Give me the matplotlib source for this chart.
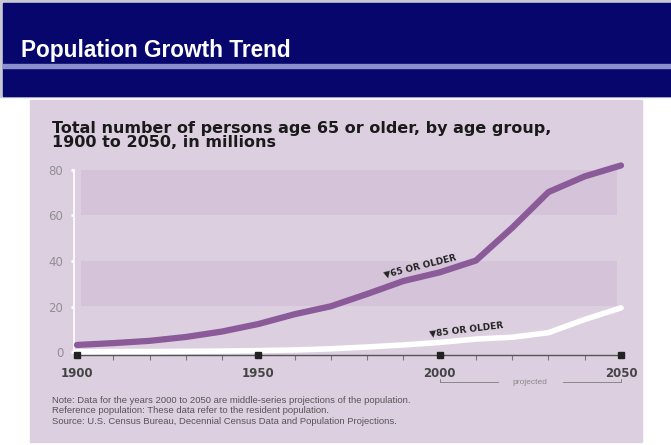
import matplotlib.pyplot as plt
from matplotlib.patches import Rectangle

# data (millions of persons)
years = [1900, 1910, 1920, 1930, 1940, 1950, 1960, 1970,
         1980, 1990, 2000, 2010, 2020, 2030, 2040, 2050]
age65 = [3.1, 3.9, 4.9, 6.6, 9.0, 12.3, 16.6, 20.1,
         25.5, 31.2, 35.0, 40.2, 54.6, 70.3, 77.2, 82.0]
age85 = [0.1, 0.2, 0.2, 0.3, 0.4, 0.6, 0.9, 1.4,
         2.2, 3.1, 4.2, 5.7, 6.5, 8.5, 14.3, 19.4]
major_years = [1900, 1950, 2000, 2050]
minor_years = [1910, 1920, 1930, 1940, 1960, 1970, 1980, 1990,
               2010, 2020, 2030, 2040]
y_ticks = [0, 20, 40, 60, 80]
bands = [(20, 40), (60, 80)]

W, H = 671, 445

def fx(px):
    return px / W

def fy(py):
    return 1 - py / H

fig = plt.figure(figsize=(W / 100, H / 100), dpi=100)
fig.patch.set_facecolor('white')

# header band and panel background
def box(x, y, w, h, c):
    fig.patches.append(Rectangle((fx(x), fy(y + h)), w / W, h / H,
                                 transform=fig.transFigure, color=c, zorder=-10))

box(0, 0, W, 97, '#c9c9d6')
box(3, 3, W, 93, '#06066c')
box(3, 64, W, 3.5, '#8a8ecc')
box(30, 100, 612, 342, '#dcd0e0')

fig.text(fx(21), fy(57), 'Population Growth Trend', color='white',
         fontsize=16.3, fontweight='bold', family='Liberation Sans', va='baseline')

fig.text(fx(52), fy(133), 'Total number of persons age 65 or older, by age group,',
         fontsize=11.5, fontweight='bold', color='#1a1a1a', va='baseline')
fig.text(fx(52), fy(147), '1900 to 2050, in millions',
         fontsize=11.5, fontweight='bold', color='#1a1a1a', va='baseline')

notes = ['Note: Data for the years 2000 to 2050 are middle-series projections of the population.',
         'Reference population: These data refer to the resident population.',
         'Source: U.S. Census Bureau, Decennial Census Data and Population Projections.']
for i, line in enumerate(notes):
    fig.text(fx(52), fy(403 + i * 10.3), line, fontsize=6.8, color='#555555',
             family='Liberation Sans', va='baseline')

# axes: 1900 -> px 77, 2050 -> px 621 ; 0 -> py 352, 80 -> py 170
ppy = (621 - 77) / 150
ppv = (352 - 170) / 80
x0, x1 = 1890, 2060
v0, v1 = -15, 90
left = 77 - (1900 - x0) * ppy
right = 621 + (x1 - 2050) * ppy
bottom = 352 - v0 * ppv
top = 170 - (v1 - 80) * ppv
ax = fig.add_axes([fx(left), fy(bottom), fx(right - left), (bottom - top) / H])
ax.set_xlim(x0, x1)
ax.set_ylim(v0, v1)
ax.patch.set_alpha(0)

for lo, hi in bands:
    ax.fill_between([1901, 2049], lo, hi, color='#d5c4d9', lw=0, zorder=1)

ax.plot(years, age85, color='white', lw=4, solid_capstyle='round', zorder=3)
ax.plot(years, age65, color='#8b5a99', lw=4.5, solid_capstyle='round', zorder=4)

for s in ['top', 'right']:
    ax.spines[s].set_visible(False)
ax.spines['left'].set_position(('data', 1899.3))
ax.spines['left'].set_bounds(0, 80)
ax.spines['left'].set_color('white')
ax.spines['left'].set_linewidth(1.2)
ax.spines['bottom'].set_position(('data', -1.3))
ax.spines['bottom'].set_bounds(1900, 2050)
ax.spines['bottom'].set_color('#555555')
ax.spines['bottom'].set_linewidth(1.0)

ax.set_yticks(y_ticks)
ax.tick_params(axis='y', colors='white', length=2, width=2, pad=6, labelsize=8.5,
               labelcolor='#909090')
ax.set_xticks(major_years)
ax.set_xticks(minor_years, minor=True)
ax.tick_params(axis='x', which='major', length=0, pad=9, labelsize=8.5, labelcolor='#444444')
ax.tick_params(axis='x', which='minor', length=3.5, width=0.8, color='#777777')
for lab in ax.get_xticklabels():
    lab.set_fontweight('bold')
ax.plot(major_years, [-1.3] * len(major_years), 's', color='#222222', ms=4.5,
        clip_on=False, zorder=5)

# series labels
ax.text(1994.6, 37.6, '\u25bc65 OR OLDER', rotation=14, fontsize=6.5, fontweight='bold',
        color='#222222', ha='center', va='center', rotation_mode='anchor')
ax.text(2007.5, 9.9, '\u25bc85 OR OLDER', rotation=7, fontsize=6.5, fontweight='bold',
        color='#222222', ha='center', va='center', rotation_mode='anchor')

# projected bracket
yb = -13.2
ax.plot([2000, 2016], [yb, yb], color='#888888', lw=0.7, clip_on=False)
ax.plot([2034, 2050], [yb, yb], color='#888888', lw=0.7, clip_on=False)
ax.plot([2000, 2000], [yb, yb + 1.5], color='#888888', lw=0.7, clip_on=False)
ax.plot([2050, 2050], [yb, yb + 1.5], color='#888888', lw=0.7, clip_on=False)
ax.text(2025, yb, 'projected', fontsize=6, color='#888888', ha='center', va='center',
        family='Liberation Sans')

fig.savefig('out.png', dpi=100)
